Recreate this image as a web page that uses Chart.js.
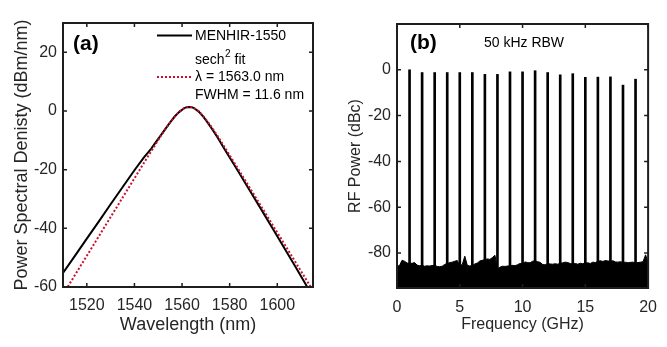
<!DOCTYPE html>
<html>
<head>
<meta charset="utf-8">
<script src="https://cdn.jsdelivr.net/npm/chart.js@4.4.1/dist/chart.umd.min.js"></script>
<style>
  html, body { margin: 0; padding: 0; background: #ffffff; }
  #wrap { position: relative; width: 667px; height: 347px; overflow: hidden; }
  #spectrum-chart { position: absolute; left: 0; top: 0; }
  #rf-chart { position: absolute; left: 340px; top: 0; }
  .frame { position: absolute; box-sizing: border-box; border: 2px solid #1e1e1e; pointer-events: none; }
  .tick { position: absolute; background: #1e1e1e; pointer-events: none; }
  #err { position: absolute; left: 70px; top: 140px; width: 240px; font: 11px monospace; color: blue; }
</style>
</head>
<body>
<div id="wrap">
  <canvas id="spectrum-chart" width="340" height="347"></canvas>
  <canvas id="rf-chart" width="327" height="347"></canvas>
  <div id="err"></div>
</div>
<script>
window.onerror = function (msg) {
  document.getElementById("err").textContent += " " + msg;
};

// (a) optical spectrum
const wavelengthTicks = [1520, 1540, 1560, 1580, 1600];
const psdTicks = [-60, -40, -20, 0, 20];
const measuredWavelength = [1510, 1515, 1520, 1525, 1530, 1535, 1540, 1544, 1547, 1549, 1551, 1553, 1555, 1557, 1559, 1561, 1562, 1563, 1564, 1565, 1567, 1569, 1571, 1573, 1575, 1578, 1583, 1588, 1593, 1598, 1603, 1608, 1612.6];
const measuredPsd = [-55.2, -49.4, -43.5, -37.7, -31.8, -26.0, -20.2, -15.8, -12.9, -10.6, -8.4, -6.1, -3.9, -1.8, -0.2, 1.0, 1.3, 1.4, 1.3, 1.0, -0.2, -2.0, -4.2, -6.6, -9.1, -13.2, -19.8, -26.5, -33.2, -40.0, -46.8, -53.6, -60.0];
const fitWavelength = [1512, 1513, 1518, 1523, 1528, 1533, 1538, 1543, 1548, 1551, 1553, 1555, 1557, 1559, 1561, 1562, 1563, 1564, 1565, 1567, 1569, 1571, 1573, 1575, 1578, 1583, 1588, 1593, 1598, 1603, 1608, 1613, 1614];
const fitPsd = [-59.9, -58.6, -52.0, -45.4, -38.8, -32.2, -25.6, -19.0, -12.5, -8.6, -6.2, -3.9, -1.8, -0.1, 1.0, 1.3, 1.4, 1.3, 1.0, -0.1, -1.8, -3.9, -6.2, -8.6, -12.5, -19.0, -25.6, -32.2, -38.8, -45.4, -52.0, -58.6, -59.9];
const legendLabels = ["MENHIR-1550", "sech", "2", " fit", "\u03bb = 1563.0 nm", "FWHM = 11.6 nm"];

// (b) RF spectrum
const freqTicks = [0, 5, 10, 15, 20];
const rfTicks = [-80, -60, -40, -20, 0];
const harmonicFreq = [1, 2, 3, 4, 5, 6, 7, 8, 9, 10, 11, 12, 13, 14, 15, 16, 17, 18, 19];
const harmonicPower = [0, -1.2, -1.2, -1.2, -1.2, -1.2, -2.0, -2.0, -0.9, -0.9, -0.4, -1.2, -2.2, -1.7, -3.3, -3.2, -3.1, -6.7, -4.1];
const floorFreq = [0, 0.2, 0.4, 0.6, 0.8, 1, 1.2, 1.4, 1.6, 1.8, 2, 2.2, 2.4, 2.6, 2.8, 3, 3.2, 3.4, 3.6, 3.8,
  4, 4.2, 4.4, 4.6, 4.8, 5, 5.2, 5.4, 5.6, 5.8, 6, 6.2, 6.4, 6.6, 6.8, 7, 7.2, 7.4, 7.6, 7.8,
  8, 8.2, 8.4, 8.6, 8.8, 9, 9.2, 9.4, 9.6, 9.8, 10, 10.2, 10.4, 10.6, 10.8, 11, 11.2, 11.4, 11.6, 11.8,
  12, 12.2, 12.4, 12.6, 12.8, 13, 13.2, 13.4, 13.6, 13.8, 14, 14.2, 14.4, 14.6, 14.8, 15, 15.2, 15.4, 15.6, 15.8,
  16, 16.2, 16.4, 16.6, 16.8, 17, 17.2, 17.4, 17.6, 17.8, 18, 18.2, 18.4, 18.6, 18.8, 19, 19.2, 19.4, 19.6, 19.8, 20];
const floorPower = [-85.8, -85.5, -83.2, -83.6, -84.4, -84.6, -84.5, -84.2, -85.3, -85.6, -85.4, -85.8, -85.6, -85.7, -85.5, -85.3, -85.9, -86.0, -85.8, -85.0,
  -84.6, -84.2, -84.0, -83.6, -83.3, -85.6, -85.0, -81.4, -85.4, -85.7, -85.5, -84.8, -84.4, -83.5, -83.2, -82.9, -82.6, -82.8, -82.0, -81.0,
  -87.0, -86.2, -85.8, -85.9, -85.7, -85.6, -85.4, -85.6, -85.1, -84.6, -84.7, -83.9, -84.2, -84.3, -83.6, -83.4, -83.8, -84.1, -85.0, -85.2,
  -84.6, -84.8, -84.9, -84.7, -84.9, -84.5, -84.3, -84.0, -84.2, -84.6, -84.8, -84.6, -84.9, -84.5, -84.7, -84.4, -84.3, -84.6, -84.0, -84.2,
  -83.6, -83.4, -83.7, -83.3, -83.5, -83.6, -83.4, -83.9, -84.0, -83.8, -84.2, -84.0, -84.3, -84.1, -84.0, -84.4, -84.2, -84.0, -83.8, -80.8, -84.2];
const rfFloor = -95.3;

Chart.defaults.font.family = "'Liberation Sans', Arial, sans-serif";
Chart.defaults.color = "#262626";

const fitRed = "#c8102e";
const inkColor = "#1e1e1e";

function pairs(xs, ys) {
  return xs.map(function (x, i) {
    return { x: x, y: ys[i] };
  });
}

function fixedTicks(values) {
  return function (scale) {
    scale.ticks = values.map(function (v) {
      return { value: v };
    });
  };
}

// box round the plot area, inward ticks on all four sides
const frameBox = {
  id: "frameBox",
  afterDraw(chart) {
    const ctx = chart.ctx;
    const area = chart.chartArea;
    const xs = chart.scales.x;
    const ys = chart.scales.y;
    ctx.save();
    ctx.strokeStyle = inkColor;
    ctx.lineWidth = 1.5;
    ctx.beginPath();
    xs.ticks.forEach(function (tick) {
      const px = xs.getPixelForValue(tick.value);
      ctx.moveTo(px, area.bottom);
      ctx.lineTo(px, area.bottom - 4);
      ctx.moveTo(px, area.top);
      ctx.lineTo(px, area.top + 4);
    });
    ys.ticks.forEach(function (tick) {
      const py = ys.getPixelForValue(tick.value);
      ctx.moveTo(area.left, py);
      ctx.lineTo(area.left + 4, py);
      ctx.moveTo(area.right, py);
      ctx.lineTo(area.right - 4, py);
    });
    ctx.stroke();
    ctx.lineWidth = 2;
    ctx.strokeRect(area.left, area.top, area.right - area.left, area.bottom - area.top);
    ctx.restore();
  },
};

const spectrumNotes = {
  id: "spectrumNotes",
  afterDraw(chart) {
    const ctx = chart.ctx;
    ctx.save();
    ctx.fillStyle = "#000";
    ctx.textBaseline = "middle";
    ctx.font = "bold 21px 'Liberation Sans', Arial, sans-serif";
    ctx.fillText("(a)", 73, 44);

    ctx.strokeStyle = "#000";
    ctx.lineWidth = 2;
    ctx.beginPath();
    ctx.moveTo(157, 35.5);
    ctx.lineTo(192, 35.5);
    ctx.stroke();

    ctx.strokeStyle = fitRed;
    ctx.setLineDash([2, 2]);
    ctx.beginPath();
    ctx.moveTo(157, 77);
    ctx.lineTo(192, 77);
    ctx.stroke();
    ctx.setLineDash([]);

    ctx.fillStyle = "#000";
    ctx.font = "14px 'Liberation Sans', Arial, sans-serif";
    ctx.fillText(legendLabels[0], 195, 36.5);
    ctx.fillText(legendLabels[1], 195, 60);
    const sechWidth = ctx.measureText(legendLabels[1]).width;
    ctx.font = "10px 'Liberation Sans', Arial, sans-serif";
    ctx.fillText(legendLabels[2], 195 + sechWidth + 0.5, 54);
    const supWidth = ctx.measureText(legendLabels[2]).width;
    ctx.font = "14px 'Liberation Sans', Arial, sans-serif";
    ctx.fillText(legendLabels[3], 195 + sechWidth + supWidth + 0.5, 60);
    ctx.fillText(legendLabels[4], 195, 77);
    ctx.fillText(legendLabels[5], 195, 95.5);
    ctx.restore();
  },
};

const rfNotes = {
  id: "rfNotes",
  afterDraw(chart) {
    const ctx = chart.ctx;
    ctx.save();
    ctx.fillStyle = "#000";
    ctx.textBaseline = "middle";
    ctx.font = "bold 21px 'Liberation Sans', Arial, sans-serif";
    ctx.fillText("(b)", 70, 43);
    ctx.font = "14px 'Liberation Sans', Arial, sans-serif";
    ctx.textAlign = "center";
    ctx.fillText("50 kHz RBW", 184, 43);
    ctx.restore();
  },
};

new Chart(document.getElementById("spectrum-chart"), {
  type: "line",
  data: {
    datasets: [
      {
        label: "sech2 fit",
        data: pairs(fitWavelength, fitPsd),
        borderColor: fitRed,
        borderWidth: 2,
        borderDash: [2, 2],
        pointRadius: 0,
        tension: 0,
      },
      {
        label: "MENHIR-1550",
        data: pairs(measuredWavelength, measuredPsd),
        borderColor: "#000",
        borderWidth: 2,
        pointRadius: 0,
        tension: 0,
      },
    ],
  },
  options: {
    responsive: false,
    animation: false,
    layout: { padding: { top: 23, right: 27, left: 0, bottom: 0 } },
    plugins: { legend: { display: false }, tooltip: { enabled: false } },
    scales: {
      x: {
        type: "linear",
        min: 1510,
        max: 1615,
        afterBuildTicks: fixedTicks(wavelengthTicks),
        afterFit: function (s) { s.height = 60; },
        grid: { display: false, drawTicks: false },
        border: { display: false },
        ticks: { font: { size: 16 }, padding: 9, maxRotation: 0, callback: function (v) { return String(v); } },
        title: { display: true, text: "Wavelength (nm)", font: { size: 18 }, padding: { top: 0, bottom: 11 } },
      },
      y: {
        min: -60,
        max: 30,
        afterBuildTicks: fixedTicks(psdTicks),
        afterFit: function (s) { s.width = 63; },
        grid: { display: false, drawTicks: false },
        border: { display: false },
        ticks: { font: { size: 16 }, padding: 6 },
        title: { display: true, text: "Power Spectral Denisty (dBm/nm)", font: { size: 18 }, padding: { top: 11, bottom: 0 } },
      },
    },
  },
  plugins: [frameBox, spectrumNotes],
});

new Chart(document.getElementById("rf-chart"), {
  type: "bar",
  data: {
    datasets: [
      {
        type: "bar",
        label: "harmonics",
        data: harmonicFreq.map(function (f, i) {
          return { x: f, y: [rfFloor, harmonicPower[i]] };
        }),
        backgroundColor: "#000",
        borderWidth: 0,
        barThickness: 2,
      },
      {
        type: "line",
        label: "noise floor",
        data: pairs(floorFreq, floorPower),
        borderColor: "#000",
        borderWidth: 1,
        backgroundColor: "#000",
        fill: "start",
        pointRadius: 0,
        tension: 0,
      },
    ],
  },
  options: {
    responsive: false,
    animation: false,
    layout: { padding: { top: 24, right: 18, left: 0, bottom: 0 } },
    plugins: { legend: { display: false }, tooltip: { enabled: false } },
    scales: {
      x: {
        type: "linear",
        min: 0,
        max: 20,
        offset: false,
        afterBuildTicks: fixedTicks(freqTicks),
        afterFit: function (s) { s.height = 59; },
        grid: { display: false, drawTicks: false, offset: false },
        border: { display: false },
        ticks: { font: { size: 16 }, padding: 10, maxRotation: 0 },
        title: { display: true, text: "Frequency (GHz)", font: { size: 16 }, padding: { top: 0, bottom: 13 } },
      },
      y: {
        min: rfFloor,
        max: 20,
        afterBuildTicks: fixedTicks(rfTicks),
        afterFit: function (s) { s.width = 57; },
        grid: { display: false, drawTicks: false },
        border: { display: false },
        ticks: { font: { size: 16 }, padding: 6 },
        title: { display: true, text: "RF Power (dBc)", font: { size: 16 }, padding: { top: 6, bottom: 0 } },
      },
    },
  },
  plugins: [frameBox, rfNotes],
});
</script>
</body>
</html>
